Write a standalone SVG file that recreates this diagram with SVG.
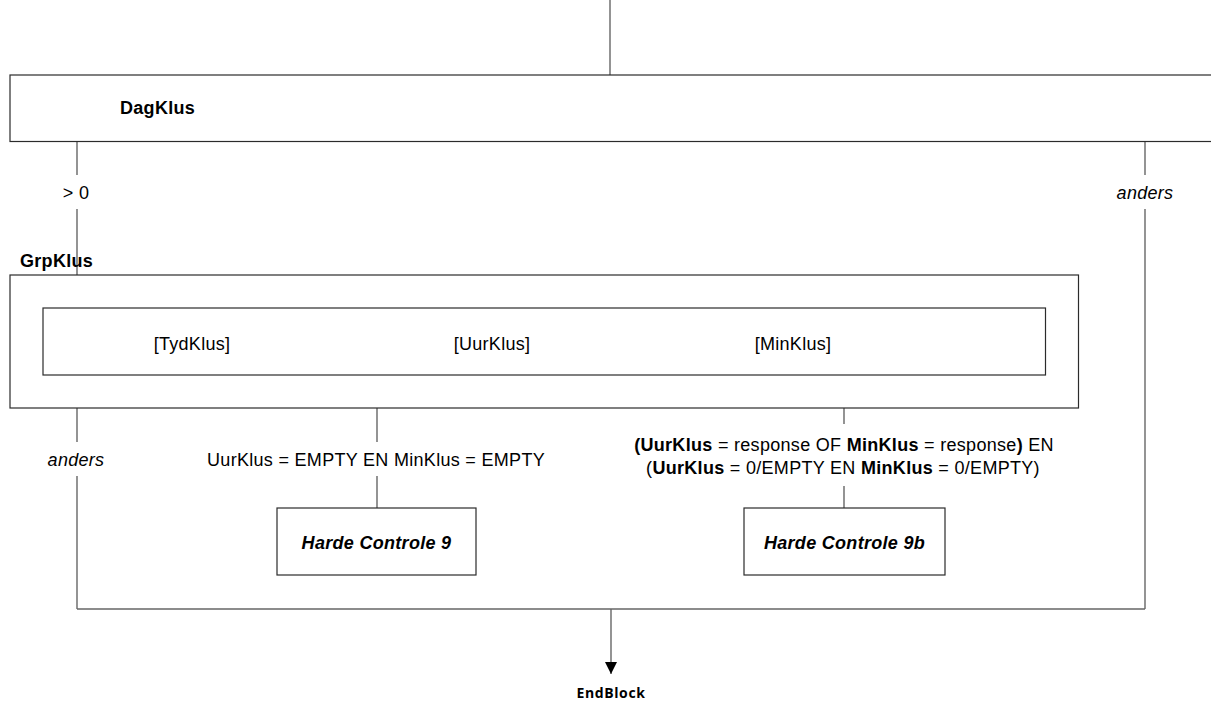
<svg xmlns="http://www.w3.org/2000/svg" width="1211" height="705" viewBox="0 0 1211 705">
<defs>
<style>
.box{fill:#fff;stroke:#2b2b2b;stroke-width:1.2}
.ln{fill:none;stroke:#666;stroke-width:1.4}
.t{font-family:"Liberation Sans",Arial,sans-serif;font-size:18px;fill:#000;letter-spacing:0.3px}
.b{font-weight:bold}
.i{font-style:italic}
.m{text-anchor:middle}
.eb{font-family:"Open Sans","Liberation Sans",sans-serif;font-size:14px;font-weight:bold;fill:#000;text-anchor:middle;letter-spacing:0.6px}
</style>
<marker id="arr" markerWidth="12" markerHeight="12" refX="12" refY="6" orient="auto" markerUnits="userSpaceOnUse">
<path d="M0,0 L12,6 L0,12 Z" fill="#000"/>
</marker>
</defs>
<rect width="1211" height="705" fill="#fff"/>
<g id="connectors">
<line class="ln" x1="610" y1="0" x2="610" y2="75"/>
<line class="ln" x1="77" y1="142" x2="77" y2="175"/>
<line class="ln" x1="77" y1="209" x2="77" y2="275"/>
<line class="ln" x1="1145" y1="142" x2="1145" y2="175"/>
<line class="ln" x1="1145" y1="209" x2="1145" y2="609"/>
<line class="ln" x1="77" y1="408" x2="77" y2="442"/>
<line class="ln" x1="77" y1="476" x2="77" y2="609"/>
<line class="ln" x1="377" y1="408" x2="377" y2="442"/>
<line class="ln" x1="377" y1="476" x2="377" y2="508"/>
<line class="ln" x1="844" y1="408" x2="844" y2="424"/>
<line class="ln" x1="844" y1="486" x2="844" y2="508"/>
<line class="ln" x1="77" y1="609" x2="1145" y2="609"/>
<line class="ln" x1="611" y1="609" x2="611" y2="674" marker-end="url(#arr)"/>
<text class="t m" x="76" y="198.5">&gt; 0</text>
<text class="t i m" x="1145" y="198.5">anders</text>
<text class="t i m" x="76" y="465.5">anders</text>
<text class="t m" x="376" y="465.5">UurKlus = EMPTY EN MinKlus = EMPTY</text>
<text class="t m" x="844" y="450.5"><tspan class="b">(UurKlus</tspan> = response OF <tspan class="b">MinKlus</tspan> = response<tspan class="b">)</tspan> EN</text>
<text class="t m" x="843" y="473.5">(<tspan class="b">UurKlus</tspan> = 0/EMPTY EN <tspan class="b">MinKlus</tspan> = 0/EMPTY)</text>
</g>
<g id="DagKlus">
<rect class="box" x="10" y="75" width="1210" height="66.5"/>
<text class="t b" x="120" y="114">DagKlus</text>
</g>
<g id="GrpKlus">
<text class="t b" x="20" y="266.5">GrpKlus</text>
<rect class="box" x="10" y="275" width="1068.5" height="133"/>
</g>
<g id="GrpKlusInner">
<rect class="box" x="43" y="308" width="1002.5" height="67"/>
<text class="t m" x="192" y="349.5">[TydKlus]</text>
<text class="t m" x="492" y="349.5">[UurKlus]</text>
<text class="t m" x="793" y="349.5">[MinKlus]</text>
</g>
<g id="HardeControle9">
<rect class="box" x="277" y="508" width="199" height="67"/>
<text class="t b i m" x="376.5" y="549">Harde Controle 9</text>
</g>
<g id="HardeControle9b">
<rect class="box" x="744" y="508" width="201" height="67"/>
<text class="t b i m" x="844.5" y="549">Harde Controle 9b</text>
</g>
<g id="EndBlock">
<text class="eb" x="611" y="698">EndBlock</text>
</g>
</svg>
